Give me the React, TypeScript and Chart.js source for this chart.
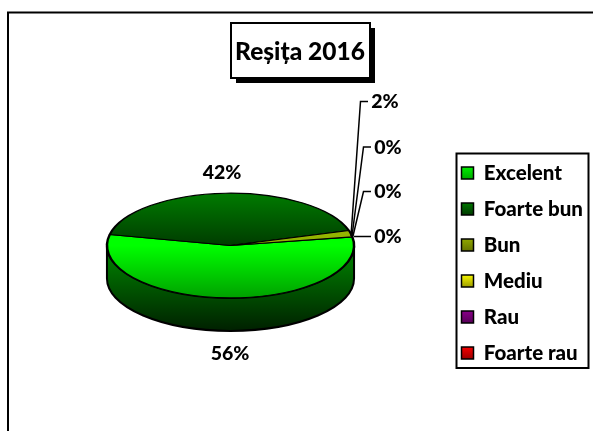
import React, { useEffect, useRef } from "react";
import { Chart, registerables } from "chart.js";

Chart.register(...registerables);

const categories = ["Excelent", "Foarte bun", "Bun", "Mediu", "Rau", "Foarte rau"];
const values = [56, 42, 2, 0, 0, 0];
const sliceStops = [
  ["#00ff00", "#00ff00", "#00a000"],
  ["#007c00", "#003c00", "#003c00"],
  ["#a8c800", "#8fb000", "#708000"],
  ["#ffff00", "#ffff00", "#a0a000"],
  ["#800080", "#800080", "#400040"],
  ["#ff0000", "#ff0000", "#800000"],
];
const swatchStops = [
  ["#00f000", "#00a000"],
  ["#007800", "#003000"],
  ["#90a800", "#606c00"],
  ["#f8f800", "#909000"],
  ["#8a008a", "#500050"],
  ["#f80000", "#900000"],
];
const wallStops = ["#007400", "#002000"];
const chartTitle = "Reșița 2016";
const FONT = "Lato";

const PIE = { cx: 230.5, cy: 245.5, squash: 0.424, depth: 33 };
const TITLE_BOX = { left: 231, top: 23, right: 370, bottom: 78, shadow: 5 };
const LEGEND_BOX = { left: 456.5, top: 153.5, right: 588.5, bottom: 368 };
const LEGEND_LEFT = 446;
const LEGEND_SHIFT = 64;
// label text centre and leader line for each slice (in slice order); slices 0 and 1 have no leader
const labelPlaces: { x: number; y: number; leader?: number[][] }[] = [
  { x: 230, y: 354 },
  { x: 222, y: 173 },
  { x: 385, y: 102, leader: [[351, 236], [360.5, 101.5], [368, 101.5]] },
  { x: 388, y: 148, leader: [[352, 236], [363.5, 147], [371, 147]] },
  { x: 388, y: 192, leader: [[353, 236], [363.5, 191.5], [371, 191.5]] },
  { x: 388, y: 237, leader: [[354, 236.5], [371, 236.5]] },
];

const pie3d = {
  id: "pie3d",
  beforeDraw(chart: any) {
    const { ctx, width, height } = chart;
    ctx.save();
    ctx.fillStyle = "#ffffff";
    ctx.fillRect(0, 0, width, height);
    ctx.strokeStyle = "#000000";
    ctx.lineWidth = 2;
    ctx.beginPath();
    ctx.moveTo(8, height);
    ctx.lineTo(8, 12.5);
    ctx.lineTo(width, 12.5);
    ctx.stroke();
    const s = TITLE_BOX.shadow;
    const w = TITLE_BOX.right - TITLE_BOX.left;
    const h = TITLE_BOX.bottom - TITLE_BOX.top;
    ctx.fillStyle = "#000000";
    ctx.fillRect(TITLE_BOX.left + s, TITLE_BOX.top + s, w, h);
    ctx.fillStyle = "#ffffff";
    ctx.fillRect(TITLE_BOX.left, TITLE_BOX.top, w, h);
    ctx.strokeRect(TITLE_BOX.left, TITLE_BOX.top, w, h);
    ctx.strokeRect(LEGEND_BOX.left, LEGEND_BOX.top, LEGEND_BOX.right - LEGEND_BOX.left, LEGEND_BOX.bottom - LEGEND_BOX.top);
    ctx.restore();
  },
  afterLayout(chart: any) {
    const { legend } = chart;
    legend.left = LEGEND_LEFT;
    legend.top += LEGEND_SHIFT;
    legend.bottom += LEGEND_SHIFT;
  },
  afterUpdate(chart: any) {
    const { ctx, legend } = chart;
    legend.legendItems.forEach((item: any, i: number) => {
      const hit = legend.legendHitBoxes[i];
      const g = ctx.createLinearGradient(0, hit.top + 4, 0, hit.top + 18);
      g.addColorStop(0, swatchStops[i][0]);
      g.addColorStop(1, swatchStops[i][1]);
      item.fillStyle = g;
      item.strokeStyle = "#000000";
      item.lineWidth = 1.5;
    });
  },
  beforeDatasetsDraw(chart: any) {
    const { ctx } = chart;
    const arcs = chart.getDatasetMeta(0).data;
    const first = arcs[0];
    const rx = first.outerRadius;
    const ry = rx * PIE.squash;
    const wall = ctx.createLinearGradient(0, PIE.cy + PIE.depth - ry * 0.3, 0, PIE.cy + ry + PIE.depth);
    wall.addColorStop(0, wallStops[0]);
    wall.addColorStop(1, wallStops[1]);
    ctx.save();
    ctx.fillStyle = wall;
    ctx.strokeStyle = "#000000";
    ctx.lineWidth = 2;
    arcs.forEach((arc: any) => {
      const from = Math.max(arc.startAngle, 0);
      const to = Math.min(arc.endAngle, Math.PI);
      if (to <= from) return;
      ctx.beginPath();
      ctx.ellipse(PIE.cx, PIE.cy, rx, ry, 0, from, to);
      ctx.ellipse(PIE.cx, PIE.cy + PIE.depth, rx, ry, 0, to, from, true);
      ctx.closePath();
      ctx.fill();
      ctx.stroke();
    });
    ctx.restore();
    ctx.save();
    ctx.translate(PIE.cx, PIE.cy);
    ctx.scale(1, PIE.squash);
    ctx.translate(-first.x, -first.y);
  },
  afterDatasetsDraw(chart: any) {
    const { ctx } = chart;
    ctx.restore();
    ctx.save();
    ctx.strokeStyle = "#000000";
    ctx.lineWidth = 1.5;
    ctx.fillStyle = "#000000";
    ctx.font = `900 19.5px ${FONT}`;
    ctx.textAlign = "center";
    ctx.textBaseline = "middle";
    const total = values.reduce((a, b) => a + b, 0);
    values.forEach((v, i) => {
      const p = labelPlaces[i];
      if (p.leader) {
        ctx.beginPath();
        p.leader.forEach(([x, y], j) => (j ? ctx.lineTo(x, y) : ctx.moveTo(x, y)));
        ctx.stroke();
      }
      ctx.fillText(`${Math.round((v / total) * 100)}%`, p.x, p.y);
    });
    ctx.restore();
  },
};

export default function App() {
  const ref = useRef<HTMLCanvasElement | null>(null);
  useEffect(() => {
    const chart = new Chart(ref.current as HTMLCanvasElement, {
      type: "pie",
      data: {
        labels: categories,
        datasets: [
          {
            data: values,
            clip: false,
            borderColor: "#000000",
            borderWidth: (c: any) => (values[c.dataIndex] > 0 ? 2.5 : 0),
            backgroundColor: (c: any) => {
              const area = c.chart.chartArea;
              if (!area) return "#000000";
              const stops = sliceStops[c.dataIndex];
              const g = c.chart.ctx.createLinearGradient(0, area.top, 0, area.bottom);
              g.addColorStop(0, stops[0]);
              g.addColorStop(0.5, stops[1]);
              g.addColorStop(1, stops[2]);
              return g;
            },
          } as any,
        ],
      },
      options: {
        responsive: false,
        animation: false,
        rotation: 80.5,
        layout: { padding: { left: 12, right: 5, top: 12, bottom: 45 } },
        plugins: {
          tooltip: { enabled: false },
          title: {
            display: true,
            text: chartTitle,
            color: "#000000",
            font: { family: FONT, weight: 900, size: 24.5 },
            padding: { top: 25, bottom: 70 },
          },
          legend: {
            position: "right",
            labels: {
              color: "#000000",
              font: { family: FONT, weight: 900, size: 20.5 },
              boxWidth: 12,
              boxHeight: 12,
              padding: 15.5,
            },
          },
        },
      } as any,
      plugins: [pie3d as any],
    });
    return () => chart.destroy();
  }, []);
  return (
    <div style={{ position: "absolute", left: 0, top: 0, width: 593, height: 431 }}>
      <canvas ref={ref} width={593} height={431} style={{ display: "block" }} />
    </div>
  );
}
